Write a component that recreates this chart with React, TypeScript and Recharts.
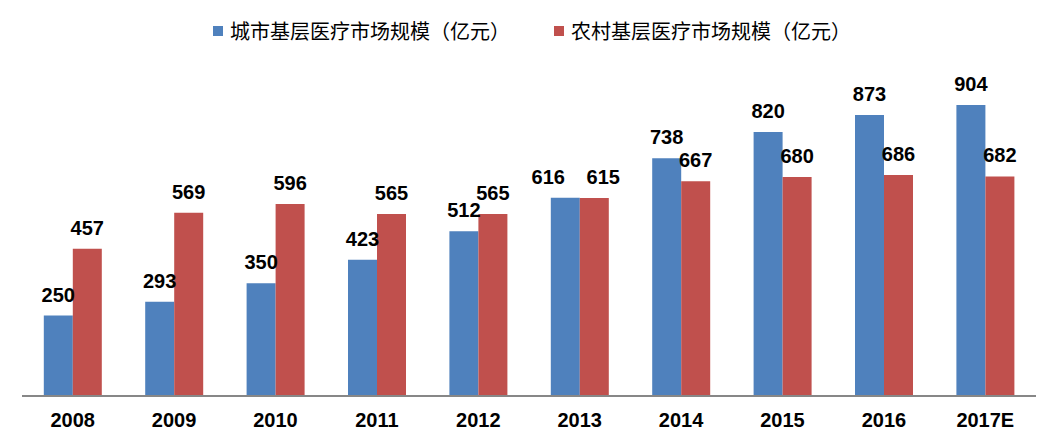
import { BarChart, Bar, XAxis, YAxis, Legend, LabelList } from 'recharts';

const years = ['2008', '2009', '2010', '2011', '2012', '2013', '2014', '2015', '2016', '2017E'];
const urban = [250, 293, 350, 423, 512, 616, 738, 820, 873, 904];
const rural = [457, 569, 596, 565, 565, 615, 667, 680, 686, 682];

const COLORS = {
  blue: '#4F81BD',
  red: '#C0504D',
  axis: '#878787',
};

const FONT = 'Arial, "Liberation Sans", sans-serif';

const chartData = years.map((year, i) => ({
  year,
  urban: urban[i],
  rural: rural[i],
}));

// 2013 labels are pushed apart so they don't collide
const makeLabel = (shift: number) => (props: any) => {
  const { x, y, width, value, index } = props;
  const dx = index === 5 ? shift : 0;
  return (
    <text
      x={x + width / 2 + dx}
      y={y - 14}
      textAnchor="middle"
      fill="#000"
      fontSize={20}
      fontWeight="bold"
      fontFamily={FONT}
    >
      {value}
    </text>
  );
};

const renderLegend = () => (
  <div style={{ display: 'flex', justifyContent: 'center', gap: 44, paddingLeft: 6, fontFamily: '"Noto Sans CJK SC", sans-serif', fontSize: 20, color: '#000' }}>
    {[
      { name: '城市基层医疗市场规模（亿元）', color: COLORS.blue },
      { name: '农村基层医疗市场规模（亿元）', color: COLORS.red },
    ].map((item) => (
      <div key={item.name} style={{ display: 'flex', alignItems: 'center' }}>
        <span style={{ width: 10, height: 10, background: item.color, display: 'inline-block', marginRight: 7 }} />
        <span>{item.name}</span>
      </div>
    ))}
  </div>
);

export default function App() {
  return (
    <div style={{ width: 1040, height: 435, background: '#fff' }}>
      <BarChart
        width={1040}
        height={435}
        data={chartData}
        margin={{ top: 37, right: 12, bottom: 0, left: 14 }}
        barCategoryGap="21.5%"
        barGap={0}
      >
        <Legend verticalAlign="top" content={renderLegend} wrapperStyle={{ top: 8 }} />
        <XAxis
          dataKey="year"
          axisLine={{ stroke: COLORS.axis, strokeWidth: 2 }}
          tickLine={false}
          height={47}
          tick={{ fill: '#000', fontSize: 20, fontWeight: 'bold', fontFamily: FONT }}
          tickMargin={11}
        />
        <YAxis hide domain={[0, 1000]} />
        <Bar dataKey="urban" fill={COLORS.blue} isAnimationActive={false}>
          <LabelList dataKey="urban" content={makeLabel(-17)} />
        </Bar>
        <Bar dataKey="rural" fill={COLORS.red} isAnimationActive={false}>
          <LabelList dataKey="rural" content={makeLabel(9)} />
        </Bar>
      </BarChart>
    </div>
  );
}
